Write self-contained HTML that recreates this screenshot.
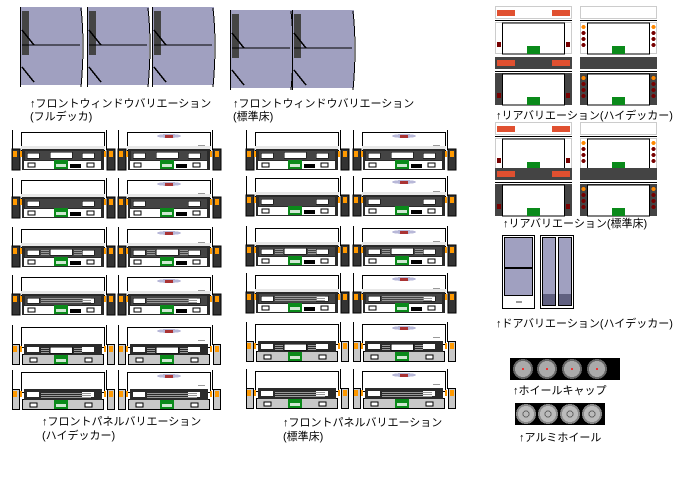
<!DOCTYPE html>
<html><head><meta charset="utf-8"><style>
html,body{margin:0;padding:0;background:#fff;width:688px;height:499px;overflow:hidden}
svg{display:block}
text{font-family:"Liberation Sans","Noto Sans CJK JP",sans-serif;font-size:11px;fill:#000}
</style></head><body>
<svg width="688" height="499" viewBox="0 0 688 499" xmlns="http://www.w3.org/2000/svg" shape-rendering="crispEdges">
<defs>
<g id="pw">
 <line x1="0.5" y1="-2" x2="0.5" y2="18" stroke="#000"/>
 <line x1="94.5" y1="-2" x2="94.5" y2="18" stroke="#000"/>
 <rect x="9.5" y="0.5" width="83" height="20" fill="#fff" stroke="#000"/>
 <rect x="9" y="14" width="84" height="4" fill="#e8e8e8"/>
 <rect x="0" y="17" width="8" height="21" fill="#333" stroke="#000"/>
 <rect x="1" y="19" width="4" height="6" fill="#f90"/>
 <rect x="8" y="19" width="2" height="6" fill="#f90"/>
 <rect x="95" y="17" width="8" height="21" fill="#333" stroke="#000"/>
 <rect x="92" y="19" width="2" height="6" fill="#f90"/>
 <rect x="97" y="19" width="4" height="6" fill="#f90"/>
 <rect x="10" y="17" width="82" height="21" fill="#2a2a2a"/>
 <rect x="13" y="19" width="76" height="9" fill="#444"/>
 <rect x="15" y="21" width="12" height="5" fill="#fff" stroke="#000" stroke-width="0.5"/>
 <rect x="70" y="21" width="12" height="5" fill="#fff" stroke="#000" stroke-width="0.5"/>
 <rect x="12" y="29" width="77" height="8" fill="#fff"/>
 <rect x="16" y="31" width="7" height="4" fill="#fff" stroke="#000"/>
 <rect x="75" y="31" width="7" height="4" fill="#fff" stroke="#000"/>
 <rect x="42" y="28" width="14" height="9" fill="#0a8a1a"/>
 <rect x="44" y="32" width="10" height="3" fill="#fff" opacity=".8"/>
</g>
<g id="pg">
 <line x1="0.5" y1="-2" x2="0.5" y2="18" stroke="#000"/>
 <line x1="94.5" y1="-2" x2="94.5" y2="18" stroke="#000"/>
 <rect x="9.5" y="0.5" width="83" height="20" fill="#fff" stroke="#000"/>
 <rect x="0.5" y="17.5" width="7" height="20" fill="#c8c8c8" stroke="#000"/>
 <rect x="1" y="19" width="4" height="6" fill="#f90"/>
 <rect x="8" y="19" width="2" height="6" fill="#f90"/>
 <rect x="95.5" y="17.5" width="7" height="20" fill="#c8c8c8" stroke="#000"/>
 <rect x="92" y="19" width="2" height="6" fill="#f90"/>
 <rect x="97" y="19" width="4" height="6" fill="#f90"/>
 <rect x="10.5" y="27.5" width="81" height="10" fill="#c8c8c8" stroke="#000"/>
 <rect x="12" y="17" width="78" height="11" fill="#2a2a2a"/>
 <rect x="15" y="20" width="12" height="5" fill="#fff"/>
 <rect x="70" y="20" width="12" height="5" fill="#fff"/>
 <rect x="18" y="31" width="7" height="4" fill="#fff" stroke="#000"/>
 <rect x="73" y="31" width="7" height="4" fill="#fff" stroke="#000"/>
 <rect x="42" y="28" width="14" height="9" fill="#0a8a1a"/>
 <rect x="44" y="32" width="10" height="3" fill="#fff" opacity=".8"/>
</g>
<g id="cwin"><rect x="38" y="20" width="22" height="6" fill="#fff" stroke="#000" stroke-width="0.5"/><rect x="58" y="32" width="11" height="4" fill="#000"/></g>
<g id="cgr"><rect x="29" y="21" width="50" height="1" fill="#999"/><rect x="29" y="23" width="50" height="1" fill="#999"/><rect x="29" y="25" width="50" height="1" fill="#999"/></g>
<g id="cmix"><rect x="29" y="21" width="8" height="1" fill="#999"/><rect x="29" y="23" width="8" height="1" fill="#999"/><rect x="29" y="25" width="8" height="1" fill="#999"/><rect x="38" y="20" width="22" height="6" fill="#fff" stroke="#000" stroke-width="0.5"/><rect x="62" y="21" width="8" height="1" fill="#999"/><rect x="62" y="23" width="8" height="1" fill="#999"/><rect x="62" y="25" width="8" height="1" fill="#999"/></g>
<g id="emb"><ellipse cx="51" cy="4" rx="12" ry="2" fill="#b8b8d8"/><rect x="47" y="3" width="8" height="3" fill="#a33"/><rect x="80" y="13" width="7" height="1" fill="#999"/></g>
<g id="blk"><rect x="58" y="32" width="11" height="4" fill="#000"/></g>

<g id="rl">
 <rect x="0.5" y="0.5" width="76" height="12" fill="#fff" stroke="#ccc"/>
 <rect x="2" y="4" width="18" height="6" fill="#e05030"/><rect x="57" y="4" width="18" height="6" fill="#e05030"/>
 <line x1="0" y1="14.5" x2="77" y2="14.5" stroke="#000"/>
 <rect x="0.5" y="16.5" width="76" height="31" fill="#fff" stroke="#ccc"/>
 <rect x="7.5" y="17" width="62" height="31" fill="#fff" stroke="#000"/>
 <rect x="2" y="36" width="4" height="5" fill="#700"/><rect x="71" y="36" width="4" height="5" fill="#700"/>
 <rect x="32" y="40" width="13" height="8" fill="#0a8a1a"/>
</g>
<g id="rr">
 <rect x="0.5" y="0.5" width="76" height="12" fill="#fff" stroke="#ccc"/>
 <line x1="0" y1="14.5" x2="77" y2="14.5" stroke="#000"/>
 <rect x="0.5" y="16.5" width="76" height="31" fill="#fff" stroke="#ccc"/>
 <rect x="7.5" y="17" width="62" height="31" fill="#fff" stroke="#000"/>
 <circle cx="3.5" cy="21" r="2" fill="#f80"/><circle cx="3.5" cy="27" r="2" fill="#700"/><circle cx="3.5" cy="33" r="2" fill="#700"/><circle cx="3.5" cy="39" r="2" fill="#700"/>
 <circle cx="73.5" cy="21" r="2" fill="#f80"/><circle cx="73.5" cy="27" r="2" fill="#700"/><circle cx="73.5" cy="33" r="2" fill="#700"/><circle cx="73.5" cy="39" r="2" fill="#700"/>
 <rect x="32" y="40" width="13" height="8" fill="#0a8a1a"/>
</g>
<g id="rld">
 <rect x="0" y="0" width="77" height="12" fill="#444"/>
 <rect x="2" y="3" width="18" height="6" fill="#e05030"/><rect x="57" y="3" width="18" height="6" fill="#e05030"/>
 <line x1="0" y1="14.5" x2="77" y2="14.5" stroke="#000"/>
 <rect x="0" y="16" width="77" height="32" fill="#444"/>
 <rect x="7.5" y="17" width="62" height="31" fill="#fff" stroke="#000"/>
 <rect x="2" y="36" width="4" height="5" fill="#700"/><rect x="71" y="36" width="4" height="5" fill="#700"/>
 <rect x="32" y="40" width="13" height="8" fill="#0a8a1a"/>
</g>
<g id="rrd">
 <rect x="0" y="0" width="77" height="12" fill="#444"/>
 <line x1="0" y1="14.5" x2="77" y2="14.5" stroke="#000"/>
 <rect x="0" y="16" width="77" height="32" fill="#444"/>
 <rect x="7.5" y="17" width="62" height="31" fill="#fff" stroke="#000"/>
 <circle cx="3.5" cy="21" r="2" fill="#f80"/><circle cx="3.5" cy="27" r="2" fill="#700"/><circle cx="3.5" cy="33" r="2" fill="#700"/><circle cx="3.5" cy="39" r="2" fill="#700"/>
 <circle cx="73.5" cy="21" r="2" fill="#f80"/><circle cx="73.5" cy="27" r="2" fill="#700"/><circle cx="73.5" cy="33" r="2" fill="#700"/><circle cx="73.5" cy="39" r="2" fill="#700"/>
 <rect x="32" y="40" width="13" height="8" fill="#0a8a1a"/>
</g>
<g id="win">
 <rect x="0" y="2" width="62" height="78" fill="#a0a0c0"/>
 <rect x="2" y="6" width="7" height="44" fill="#444"/>
 <line x1="0.5" y1="2" x2="0.5" y2="82" stroke="#000"/>
 <line x1="2" y1="40" x2="60" y2="40" stroke="#000"/>
 <line x1="2" y1="25" x2="14" y2="40" stroke="#000" stroke-width="1.5"/>
 <line x1="2" y1="62" x2="14" y2="77" stroke="#000" stroke-width="1.5"/>
 <path d="M61 3 Q65 40 61 82" fill="none" stroke="#000"/>
</g>
</defs>

<!-- windows -->
<use href="#win" x="20" y="5"/>
<use href="#win" x="87" y="5"/>
<use href="#win" x="152" y="5"/>
<use href="#win" x="230" y="8"/>
<use href="#win" x="292" y="8"/>
<text x="30" y="107">↑フロントウィンドウバリエーション</text>
<text x="30" y="120">(フルデッカ)</text>
<text x="233" y="107">↑フロントウィンドウバリエーション</text>
<text x="233" y="120">(標準床)</text>

<!-- left panels -->
<g>
<use href="#pw" x="12" y="132"/><use href="#cwin" x="12" y="132"/>
<use href="#pw" x="118" y="132"/><use href="#cwin" x="118" y="132"/><use href="#emb" x="118" y="132"/>
<use href="#pw" x="12" y="180"/><use href="#blk" x="12" y="180"/>
<use href="#pw" x="118" y="180"/><use href="#blk" x="118" y="180"/><use href="#emb" x="118" y="180"/>
<use href="#pw" x="12" y="229"/><use href="#cmix" x="12" y="229"/><use href="#blk" x="12" y="229"/>
<use href="#pw" x="118" y="229"/><use href="#cmix" x="118" y="229"/><use href="#blk" x="118" y="229"/><use href="#emb" x="118" y="229"/>
<use href="#pw" x="12" y="277"/><use href="#cgr" x="12" y="277"/><use href="#blk" x="12" y="277"/>
<use href="#pw" x="118" y="277"/><use href="#cgr" x="118" y="277"/><use href="#blk" x="118" y="277"/><use href="#emb" x="118" y="277"/>
<use href="#pg" x="12" y="327"/><use href="#cmix" x="12" y="327"/>
<use href="#pg" x="118" y="327"/><use href="#cmix" x="118" y="327"/><use href="#emb" x="118" y="327"/>
<use href="#pg" x="12" y="372"/><use href="#cgr" x="12" y="372"/>
<use href="#pg" x="118" y="372"/><use href="#cgr" x="118" y="372"/><use href="#emb" x="118" y="372"/>
</g>
<!-- right panels -->
<g>
<use href="#pw" x="246" y="132"/><use href="#cwin" x="246" y="132"/>
<use href="#pw" x="353" y="132"/><use href="#cwin" x="353" y="132"/><use href="#emb" x="353" y="132"/>
<use href="#pw" x="246" y="178"/><use href="#blk" x="246" y="178"/>
<use href="#pw" x="353" y="178"/><use href="#blk" x="353" y="178"/><use href="#emb" x="353" y="178"/>
<use href="#pw" x="246" y="228"/><use href="#cmix" x="246" y="228"/><use href="#blk" x="246" y="228"/>
<use href="#pw" x="353" y="228"/><use href="#cmix" x="353" y="228"/><use href="#blk" x="353" y="228"/><use href="#emb" x="353" y="228"/>
<use href="#pw" x="246" y="275"/><use href="#cgr" x="246" y="275"/><use href="#blk" x="246" y="275"/>
<use href="#pw" x="353" y="275"/><use href="#cgr" x="353" y="275"/><use href="#blk" x="353" y="275"/><use href="#emb" x="353" y="275"/>
<use href="#pg" x="246" y="324"/><use href="#cmix" x="246" y="324"/>
<use href="#pg" x="353" y="324"/><use href="#cmix" x="353" y="324"/><use href="#emb" x="353" y="324"/>
<use href="#pg" x="246" y="371"/><use href="#cgr" x="246" y="371"/>
<use href="#pg" x="353" y="371"/><use href="#cgr" x="353" y="371"/><use href="#emb" x="353" y="371"/>
</g>
<text x="42" y="425">↑フロントパネルバリエーション</text>
<text x="42" y="439">(ハイデッカー)</text>
<text x="283" y="426">↑フロントパネルバリエーション</text>
<text x="283" y="440">(標準床)</text>

<!-- rear -->
<use href="#rl" x="495" y="6"/><use href="#rr" x="580" y="6"/>
<use href="#rld" x="495" y="57"/><use href="#rrd" x="580" y="57"/>
<text x="496" y="119">↑リアバリエーション(ハイデッカー)</text>
<use href="#rl" x="495" y="122"/><use href="#rr" x="580" y="122"/>
<use href="#rld" x="495" y="168"/><use href="#rrd" x="580" y="168"/>
<text x="503" y="227">↑リアバリエーション(標準床)</text>

<!-- doors -->
<rect x="502.5" y="235.5" width="32" height="73" fill="#fff" stroke="#000"/>
<rect x="504.5" y="237.5" width="28" height="30" fill="#a0a0c0" stroke="#000"/>
<rect x="504.5" y="268.5" width="28" height="27" fill="#a0a0c0" stroke="#000"/>
<rect x="516" y="301" width="6" height="2" fill="#999"/>
<rect x="540.5" y="235.5" width="33" height="73" fill="#fff" stroke="#000"/>
<rect x="542.5" y="237.5" width="13" height="68" fill="#a0a0c0" stroke="#000"/>
<rect x="558.5" y="237.5" width="13" height="68" fill="#a0a0c0" stroke="#000"/>
<rect x="543" y="294" width="12" height="11" fill="#606080"/>
<rect x="559" y="294" width="12" height="11" fill="#606080"/>
<text x="496" y="327">↑ドアバリエーション(ハイデッカー)</text>

<!-- wheels -->
<rect x="510" y="358" width="110" height="22" fill="#000"/>
<g fill="#aaa" stroke="#666" stroke-width="2">
<circle cx="523" cy="369" r="9"/><circle cx="547" cy="369" r="9"/><circle cx="572" cy="369" r="9"/><circle cx="597" cy="369" r="9"/>
</g>
<g fill="#e33"><rect x="522" y="368" width="2" height="2"/><rect x="546" y="368" width="2" height="2"/><rect x="571" y="368" width="2" height="2"/><rect x="596" y="368" width="2" height="2"/></g>
<text x="513" y="394">↑ホイールキャップ</text>
<rect x="515" y="403" width="90" height="22" fill="#000"/>
<g fill="#bbb" stroke="#888" stroke-width="2">
<circle cx="526" cy="414" r="9"/><circle cx="548" cy="414" r="9"/><circle cx="570" cy="414" r="9"/><circle cx="592" cy="414" r="9"/>
</g>
<g fill="none" stroke="#666"><circle cx="526" cy="414" r="3"/><circle cx="548" cy="414" r="3"/><circle cx="570" cy="414" r="3"/><circle cx="592" cy="414" r="3"/></g>
<text x="519" y="441">↑アルミホイール</text>
</svg>
</body></html>
